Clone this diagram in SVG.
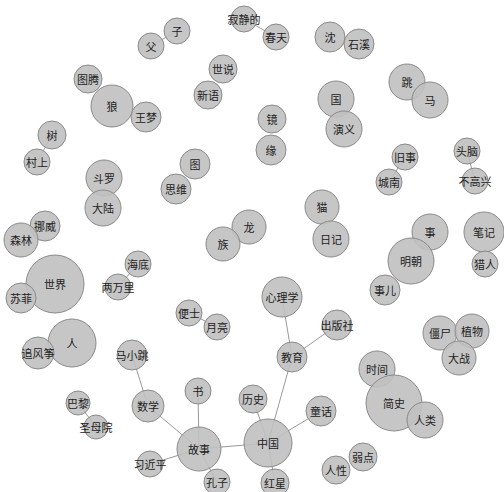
<svg xmlns="http://www.w3.org/2000/svg" width="504" height="492" viewBox="0 0 504 492">
<style>
.n circle{fill:#c0c0c0;fill-opacity:0.9;stroke:#8a8a8a;stroke-width:1}
.n text{font-family:"Noto Sans CJK SC","Noto Sans",sans-serif;font-size:11px;fill:#222;text-anchor:middle;dominant-baseline:central}
#links line{stroke:#999;stroke-width:1}
</style>
<rect width="504" height="492" fill="#fff"/>
<g id="links">
<line x1="151" y1="46" x2="177" y2="31"/>
<line x1="244" y1="19" x2="276" y2="37"/>
<line x1="52" y1="135" x2="37" y2="162"/>
<line x1="405" y1="157" x2="389" y2="182"/>
<line x1="467" y1="151" x2="475" y2="181"/>
<line x1="138" y1="264" x2="118" y2="287"/>
<line x1="189" y1="313" x2="217" y2="327"/>
<line x1="78" y1="403" x2="96" y2="427"/>
<line x1="132" y1="355" x2="148" y2="406"/>
<line x1="148" y1="406" x2="199" y2="449"/>
<line x1="198" y1="391" x2="199" y2="449"/>
<line x1="199" y1="449" x2="150" y2="464"/>
<line x1="199" y1="449" x2="217" y2="482"/>
<line x1="199" y1="449" x2="268" y2="443"/>
<line x1="253" y1="399" x2="268" y2="443"/>
<line x1="268" y1="443" x2="292" y2="357"/>
<line x1="268" y1="443" x2="321" y2="411"/>
<line x1="268" y1="443" x2="275" y2="483"/>
<line x1="292" y1="357" x2="282" y2="297"/>
<line x1="292" y1="357" x2="337" y2="325"/>
</g>
<g id="n-fu" class="n"><circle cx="151" cy="46" r="13"/><text x="151" y="46">父</text></g>
<g id="n-zi" class="n"><circle cx="177" cy="31" r="13"/><text x="177" y="31">子</text></g>
<g id="n-jijingde" class="n"><circle cx="244" cy="19" r="13"/><text x="244" y="19">寂静的</text></g>
<g id="n-chuntian" class="n"><circle cx="276" cy="37" r="13"/><text x="276" y="37">春天</text></g>
<g id="n-shen" class="n"><circle cx="330" cy="37" r="15"/><text x="330" y="37">沈</text></g>
<g id="n-shixi" class="n"><circle cx="359" cy="44" r="15"/><text x="359" y="44">石溪</text></g>
<g id="n-shishuo" class="n"><circle cx="223" cy="69" r="14"/><text x="223" y="69">世说</text></g>
<g id="n-xinyu" class="n"><circle cx="208" cy="95" r="14"/><text x="208" y="95">新语</text></g>
<g id="n-tuteng" class="n"><circle cx="88" cy="79" r="14"/><text x="88" y="79">图腾</text></g>
<g id="n-lang" class="n"><circle cx="112" cy="106" r="21"/><text x="112" y="106">狼</text></g>
<g id="n-wangmeng" class="n"><circle cx="146" cy="117" r="15"/><text x="146" y="117">王梦</text></g>
<g id="n-tiao" class="n"><circle cx="407" cy="82" r="18"/><text x="407" y="82">跳</text></g>
<g id="n-ma" class="n"><circle cx="430" cy="100" r="18"/><text x="430" y="100">马</text></g>
<g id="n-guo" class="n"><circle cx="336" cy="99" r="18"/><text x="336" y="99">国</text></g>
<g id="n-yanyi" class="n"><circle cx="344" cy="129" r="18"/><text x="344" y="129">演义</text></g>
<g id="n-jing" class="n"><circle cx="272" cy="119" r="14"/><text x="272" y="119">镜</text></g>
<g id="n-yuan" class="n"><circle cx="271" cy="150" r="15"/><text x="271" y="150">缘</text></g>
<g id="n-shu" class="n"><circle cx="52" cy="135" r="14"/><text x="52" y="135">树</text></g>
<g id="n-cunshang" class="n"><circle cx="37" cy="162" r="13"/><text x="37" y="162">村上</text></g>
<g id="n-jiushi" class="n"><circle cx="405" cy="157" r="13"/><text x="405" y="157">旧事</text></g>
<g id="n-chengnan" class="n"><circle cx="389" cy="182" r="13"/><text x="389" y="182">城南</text></g>
<g id="n-tounao" class="n"><circle cx="467" cy="151" r="13"/><text x="467" y="151">头脑</text></g>
<g id="n-bugaoxing" class="n"><circle cx="475" cy="181" r="13"/><text x="475" y="181">不高兴</text></g>
<g id="n-tu" class="n"><circle cx="195" cy="164" r="15"/><text x="195" y="164">图</text></g>
<g id="n-siwei" class="n"><circle cx="176" cy="189" r="15"/><text x="176" y="189">思维</text></g>
<g id="n-douluo" class="n"><circle cx="104" cy="178" r="18"/><text x="104" y="178">斗罗</text></g>
<g id="n-dalu" class="n"><circle cx="103" cy="208" r="18"/><text x="103" y="208">大陆</text></g>
<g id="n-mao" class="n"><circle cx="322" cy="207" r="17"/><text x="322" y="207">猫</text></g>
<g id="n-riji" class="n"><circle cx="331" cy="239" r="18"/><text x="331" y="239">日记</text></g>
<g id="n-long" class="n"><circle cx="249" cy="227" r="17"/><text x="249" y="227">龙</text></g>
<g id="n-zu" class="n"><circle cx="223" cy="244" r="17"/><text x="223" y="244">族</text></g>
<g id="n-nuowei" class="n"><circle cx="45" cy="226" r="15"/><text x="45" y="226">挪威</text></g>
<g id="n-senlin" class="n"><circle cx="21" cy="240" r="17"/><text x="21" y="240">森林</text></g>
<g id="n-shi" class="n"><circle cx="430" cy="232" r="18"/><text x="430" y="232">事</text></g>
<g id="n-mingchao" class="n"><circle cx="411" cy="261" r="23"/><text x="411" y="261">明朝</text></g>
<g id="n-shier" class="n"><circle cx="385" cy="290" r="15"/><text x="385" y="290">事儿</text></g>
<g id="n-biji" class="n"><circle cx="484" cy="232" r="20"/><text x="484" y="232">笔记</text></g>
<g id="n-lieren" class="n"><circle cx="485" cy="264" r="13"/><text x="485" y="264">猎人</text></g>
<g id="n-shijie" class="n"><circle cx="55" cy="284" r="29"/><text x="55" y="284">世界</text></g>
<g id="n-sufei" class="n"><circle cx="21" cy="298" r="15"/><text x="21" y="298">苏菲</text></g>
<g id="n-haidi" class="n"><circle cx="138" cy="264" r="13"/><text x="138" y="264">海底</text></g>
<g id="n-liangwanli" class="n"><circle cx="118" cy="287" r="13"/><text x="118" y="287">两万里</text></g>
<g id="n-bianshi" class="n"><circle cx="189" cy="313" r="13"/><text x="189" y="313">便士</text></g>
<g id="n-yueliang" class="n"><circle cx="217" cy="327" r="13"/><text x="217" y="327">月亮</text></g>
<g id="n-xinlixue" class="n"><circle cx="282" cy="297" r="20"/><text x="282" y="297">心理学</text></g>
<g id="n-chubanshe" class="n"><circle cx="337" cy="325" r="15"/><text x="337" y="325">出版社</text></g>
<g id="n-jiaoyu" class="n"><circle cx="292" cy="357" r="15"/><text x="292" y="357">教育</text></g>
<g id="n-jiangshi" class="n"><circle cx="440" cy="333" r="17"/><text x="440" y="333">僵尸</text></g>
<g id="n-zhiwu" class="n"><circle cx="472" cy="331" r="17"/><text x="472" y="331">植物</text></g>
<g id="n-dazhan" class="n"><circle cx="459" cy="358" r="17"/><text x="459" y="358">大战</text></g>
<g id="n-ren" class="n"><circle cx="72" cy="343" r="24"/><text x="72" y="343">人</text></g>
<g id="n-zhuifengzheng" class="n"><circle cx="38" cy="353" r="16"/><text x="38" y="353">追风筝</text></g>
<g id="n-maxiaotiao" class="n"><circle cx="132" cy="355" r="15"/><text x="132" y="355">马小跳</text></g>
<g id="n-shijian" class="n"><circle cx="377" cy="369" r="18"/><text x="377" y="369">时间</text></g>
<g id="n-jianshi" class="n"><circle cx="394" cy="403" r="28"/><text x="394" y="403">简史</text></g>
<g id="n-renlei" class="n"><circle cx="425" cy="420" r="18"/><text x="425" y="420">人类</text></g>
<g id="n-bali" class="n"><circle cx="78" cy="403" r="12"/><text x="78" y="403">巴黎</text></g>
<g id="n-shengmuyuan" class="n"><circle cx="96" cy="427" r="12"/><text x="96" y="427">圣母院</text></g>
<g id="n-shuxue" class="n"><circle cx="148" cy="406" r="16"/><text x="148" y="406">数学</text></g>
<g id="n-shu2" class="n"><circle cx="198" cy="391" r="13"/><text x="198" y="391">书</text></g>
<g id="n-lishi" class="n"><circle cx="253" cy="399" r="14"/><text x="253" y="399">历史</text></g>
<g id="n-tonghua" class="n"><circle cx="321" cy="411" r="15"/><text x="321" y="411">童话</text></g>
<g id="n-gushi" class="n"><circle cx="199" cy="449" r="22"/><text x="199" y="449">故事</text></g>
<g id="n-zhongguo" class="n"><circle cx="268" cy="443" r="24"/><text x="268" y="443">中国</text></g>
<g id="n-xijinping" class="n"><circle cx="150" cy="464" r="13"/><text x="150" y="464">习近平</text></g>
<g id="n-kongzi" class="n"><circle cx="217" cy="482" r="13"/><text x="217" y="482">孔子</text></g>
<g id="n-hongxing" class="n"><circle cx="275" cy="483" r="14"/><text x="275" y="483">红星</text></g>
<g id="n-ruodian" class="n"><circle cx="363" cy="457" r="14"/><text x="363" y="457">弱点</text></g>
<g id="n-renxing" class="n"><circle cx="336" cy="470" r="14"/><text x="336" y="470">人性</text></g>
</svg>
